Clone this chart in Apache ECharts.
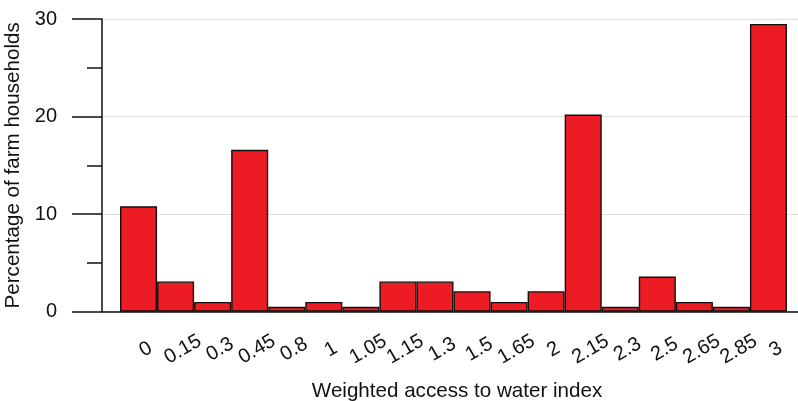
<!DOCTYPE html>
<html>
<head>
<meta charset="utf-8">
<script src="https://cdn.jsdelivr.net/npm/echarts@6/dist/echarts.min.js"></script>
<style>
html,body{margin:0;padding:0;background:#fff;}
#c{width:798px;height:401px;}
</style>
</head>
<body>
<div id="c"></div>
<script>
const categories = ['0','0.15','0.3','0.45','0.8','1','1.05','1.15','1.3','1.5','1.65','2','2.15','2.3','2.5','2.65','2.85','3'];
const percentages = [10.8, 3.1, 1.0, 16.6, 0.5, 1.0, 0.5, 3.1, 3.1, 2.1, 1.0, 2.1, 20.2, 0.5, 3.6, 1.0, 0.5, 29.5];
const yTicks = [0, 10, 20, 30];

const FONT = 'Liberation Sans, Arial, Helvetica, sans-serif';
const chart = echarts.init(document.getElementById('c'), null, {renderer: 'canvas'});
chart.setOption({
  animation: false,
  backgroundColor: '#ffffff',
  grid: [
    {left: 120, right: 11, top: 19, bottom: 89.3, containLabel: false, outerBoundsMode: 'none'},
    {left: 102, right: 0, top: 19, bottom: 89.3, containLabel: false, outerBoundsMode: 'none'}
  ],
  xAxis: [
    {
      type: 'category', gridIndex: 0, data: categories,
      boundaryGap: true,
      axisLine: {show: false}, axisTick: {show: false},
      axisLabel: {
        interval: 0, rotate: 30, align: 'center', verticalAlign: 'middle',
        margin: 42, padding: [0, 0, 0, 17], hideOverlap: false,
        color: '#111', fontFamily: FONT, fontSize: 20
      },
      name: 'Weighted access to water index',
      nameLocation: 'middle', nameGap: 69,
      nameTextStyle: {color: '#111', fontFamily: FONT, fontSize: 20.6, padding: [0, 0, 0, 7]}
    },
    {
      type: 'value', gridIndex: 1, min: 0, max: 1,
      axisLine: {show: true, onZero: false, lineStyle: {color: '#111', width: 1.5}},
      axisTick: {show: false}, axisLabel: {show: false}, splitLine: {show: false}
    }
  ],
  yAxis: [
    {
      type: 'value', gridIndex: 0, min: yTicks[0], max: yTicks[yTicks.length - 1], interval: 10,
      show: false
    },
    {
      type: 'value', gridIndex: 1, min: yTicks[0], max: yTicks[yTicks.length - 1], interval: 10,
      axisLine: {show: true, lineStyle: {color: '#111', width: 1.5}},
      axisTick: {show: true, length: 30, lineStyle: {color: '#111', width: 1.5}},
      minorTick: {show: true, splitNumber: 2, length: 15, lineStyle: {color: '#111', width: 1.5}},
      axisLabel: {margin: 45, color: '#111', fontFamily: FONT, fontSize: 20},
      splitLine: {show: true, lineStyle: {color: '#dddddd', width: 1.2}},
      name: 'Percentage of farm households',
      nameLocation: 'middle', nameGap: 71, nameRotate: 90,
      nameTextStyle: {color: '#111', fontFamily: FONT, fontSize: 20.6}
    }
  ],
  series: [{
    type: 'bar', xAxisIndex: 0, yAxisIndex: 0,
    data: percentages,
    barCategoryGap: '0%',
    itemStyle: {color: '#ed1c24', borderColor: '#111', borderWidth: 1.4},
    z: 5
  }]
});
</script>
</body>
</html>
